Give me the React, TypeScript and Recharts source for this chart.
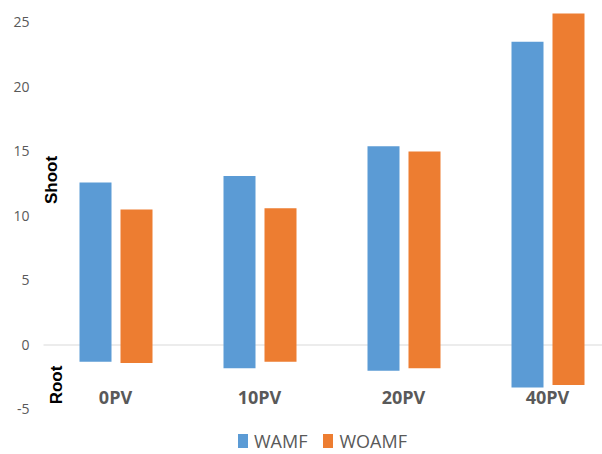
import { BarChart, Bar, XAxis, YAxis, CartesianGrid } from "recharts";

const categories = ["0PV", "10PV", "20PV", "40PV"];
const wamfShoot = [12.6, 13.1, 15.4, 23.5];
const wamfRoot = [-1.3, -1.8, -2.0, -3.3];
const woamfShoot = [10.5, 10.6, 15.0, 25.7];
const woamfRoot = [-1.4, -1.3, -1.8, -3.1];
const yTicks = [-5, 0, 5, 10, 15, 20, 25];

const BLUE = "#5B9BD5";
const ORANGE = "#ED7D31";
const GREY = "#595959";

const data = categories.map((name, i) => ({
  name,
  wamfShoot: wamfShoot[i],
  wamfRoot: wamfRoot[i],
  woamfShoot: woamfShoot[i],
  woamfRoot: woamfRoot[i],
}));

const CatTick = (props: any) => (
  <text
    x={props.x}
    y={404}
    textAnchor="middle"
    fill={GREY}
    fontFamily="Open Sans"
    fontWeight="bold"
    fontSize={18}
  >
    {props.payload.value}
  </text>
);

export default function App() {
  return (
    <div style={{ position: "absolute", left: 0, top: 0, width: 602, height: 454, overflow: "hidden", background: "#fff" }}>
      <BarChart
        width={640}
        height={454}
        data={data}
        stackOffset="sign"
        barSize={32}
        barGap={9}
        margin={{ top: 9.6, right: 20.5, bottom: 0, left: 0 }}
      >
        <CartesianGrid vertical={false} horizontalValues={[0]} stroke="#d9d9d9" />
        <XAxis dataKey="name" axisLine={false} tickLine={false} height={44.5} tick={CatTick} />
        <YAxis
          domain={[-5, 26]}
          ticks={yTicks}
          width={43.5}
          axisLine={false}
          tickLine={false}
          tickMargin={8}
          tick={{ fill: GREY, fontFamily: "Open Sans", fontSize: 14 }}
        />
        <Bar dataKey="wamfShoot" stackId="a" fill={BLUE} isAnimationActive={false} />
        <Bar dataKey="wamfRoot" stackId="a" fill={BLUE} isAnimationActive={false} />
        <Bar dataKey="woamfShoot" stackId="b" fill={ORANGE} isAnimationActive={false} />
        <Bar dataKey="woamfRoot" stackId="b" fill={ORANGE} isAnimationActive={false} />
      </BarChart>
      <svg width={602} height={454} style={{ position: "absolute", left: 0, top: 0, pointerEvents: "none" }}>
        <text transform="translate(57,180) rotate(-90)" textAnchor="middle" fontFamily="Liberation Sans" fontWeight="bold" fontSize={17} fill="#000">
          Shoot
        </text>
        <text transform="translate(62,385) rotate(-90)" textAnchor="middle" fontFamily="Liberation Sans" fontWeight="bold" fontSize={17} fill="#000">
          Root
        </text>
      </svg>
      <div style={{ position: "absolute", left: 238, top: 430, display: "flex", alignItems: "center", fontFamily: "Open Sans", fontSize: 18, color: GREY, lineHeight: "22px" }}>
        <span style={{ width: 10, height: 14, background: BLUE, marginRight: 6 }} />
        <span style={{ marginRight: 16 }}>WAMF</span>
        <span style={{ width: 10, height: 14, background: ORANGE, marginRight: 6 }} />
        <span>WOAMF</span>
      </div>
    </div>
  );
}
